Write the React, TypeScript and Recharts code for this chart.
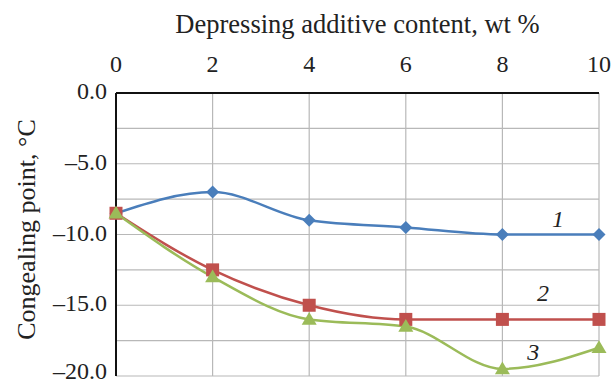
import React from "react";
import { LineChart, Line, XAxis, YAxis, CartesianGrid, ReferenceDot } from "recharts";

const contents = [0, 2, 4, 6, 8, 10];
const series1 = [-8.5, -7, -9, -9.5, -10, -10];
const series2 = [-8.5, -12.5, -15, -16, -16, -16];
const series3 = [-8.5, -13, -16, -16.5, -19.5, -18];
const yTicks = [0, -5, -10, -15, -20];
const yGrid = [0, -2.5, -5, -7.5, -10, -12.5, -15, -17.5, -20];
const curveLabels = [
  { text: "1", x: 9.15, y: -8.9 },
  { text: "2", x: 8.84, y: -14.1 },
  { text: "3", x: 8.64, y: -18.3 },
];

const data = contents.map((c, i) => ({ c, s1: series1[i], s2: series2[i], s3: series3[i] }));

const FONT = "'Liberation Serif', 'Times New Roman', serif";
const BLUE = "#4a7ebb";
const RED = "#c0504d";
const GREEN = "#9bbb59";

const Diamond = (props: any) => {
  const { cx, cy } = props;
  if (cx == null || cy == null) return null;
  const r = 6.5;
  return <path d={`M${cx},${cy - r}L${cx + r},${cy}L${cx},${cy + r}L${cx - r},${cy}Z`} fill={BLUE} />;
};
const Square = (props: any) => {
  const { cx, cy } = props;
  if (cx == null || cy == null) return null;
  const r = 6.5;
  return <rect x={cx - r} y={cy - r} width={2 * r} height={2 * r} fill={RED} />;
};
const Triangle = (props: any) => {
  const { cx, cy } = props;
  if (cx == null || cy == null) return null;
  const r = 7.5;
  return <path d={`M${cx},${cy - r}L${cx + r},${cy + r * 0.7}L${cx - r},${cy + r * 0.7}Z`} fill={GREEN} />;
};

const fmtY = (v: number) => (v === 0 ? "0.0" : "\u2013" + Math.abs(v).toFixed(1));

const XTick = (props: any) => {
  const { x, y, payload } = props;
  return (
    <text x={x} y={y} textAnchor="middle" fontFamily={FONT} fontSize={24} fill="#222" style={{ fontFamily: FONT, fontSize: 24 }}>
      {payload.value}
    </text>
  );
};
const YTick = (props: any) => {
  const { x, y, payload } = props;
  return (
    <text x={x} y={y} dy={6} textAnchor="end" fontFamily={FONT} fontSize={24} fill="#222" style={{ fontFamily: FONT, fontSize: 24 }}>
      {fmtY(payload.value)}
    </text>
  );
};

export default function App() {
  return (
    <div
      style={{
        position: "fixed",
        left: 0,
        top: 0,
        width: 613,
        height: 382,
        background: "#fff",
        fontFamily: FONT,
      }}
    >
      <LineChart
        width={613}
        height={382}
        data={data}
        margin={{ top: 0, right: 14, bottom: 6, left: 0 }}
      >
        <CartesianGrid
          stroke="#b8b8b8"
          strokeWidth={1.2}
          horizontalValues={yGrid}
          verticalValues={contents}
        />
        <XAxis
          dataKey="c"
          type="number"
          domain={[0, 10]}
          ticks={contents}
          orientation="top"
          height={93}
          axisLine={{ stroke: "#111", strokeWidth: 2 }}
          tickLine={false}
          tickSize={6}
          tickMargin={15}
          tick={<XTick />}
          label={{
            value: "Depressing additive content, wt %",
            position: "insideTop",
            offset: 14,
            style: { fontFamily: FONT, fontSize: 26.5, fill: "#222" },
          }}
        />
        <YAxis
          type="number"
          domain={[-20, 0]}
          ticks={yTicks}
          width={116}
          axisLine={{ stroke: "#111", strokeWidth: 2 }}
          tickLine={false}
          tickSize={0}
          tickMargin={9}
          tick={<YTick />}
          label={{
            value: "Congealing point, \u00B0C",
            angle: -90,
            position: "insideLeft",
            offset: 26,
            dy: -5,
            style: { fontFamily: FONT, fontSize: 26, fill: "#222", textAnchor: "middle" },
          }}
        />
        <Line type="monotone" dataKey="s1" stroke={BLUE} strokeWidth={2.5} dot={<Diamond />} isAnimationActive={false} />
        <Line type="monotone" dataKey="s2" stroke={RED} strokeWidth={2.5} dot={<Square />} isAnimationActive={false} />
        <Line type="monotone" dataKey="s3" stroke={GREEN} strokeWidth={2.5} dot={<Triangle />} isAnimationActive={false} />
        {curveLabels.map((l) => (
          <ReferenceDot
            key={l.text}
            x={l.x}
            y={l.y}
            r={0}
            stroke="none"
            fill="none"
            label={{
              value: l.text,
              position: "center",
              style: { fontFamily: FONT, fontSize: 24, fontStyle: "italic", fill: "#222" },
            }}
          />
        ))}
      </LineChart>
    </div>
  );
}
